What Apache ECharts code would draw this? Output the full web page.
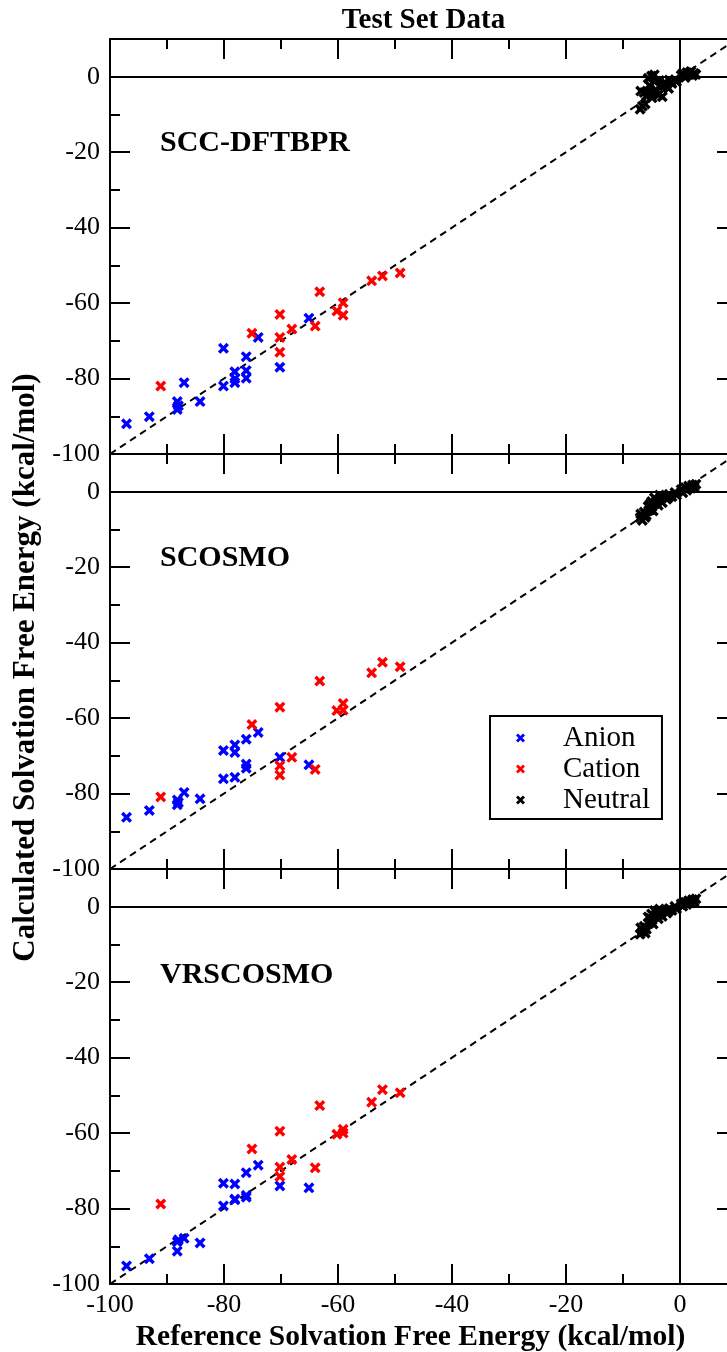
<!DOCTYPE html>
<html>
<head>
<meta charset="utf-8">
<script src="https://cdn.jsdelivr.net/npm/echarts@6/dist/echarts.min.js"></script>
<style>
  html, body { margin: 0; padding: 0; background: #fff; }
  #chart { width: 727px; height: 1352px; }
</style>
</head>
<body>
<div id="chart"></div>
<script>
// Reference solvation free energies (kcal/mol), shared by every method
const anionRef = [-97.1, -93.1, -88.2, -88.2, -88.0, -87.0, -84.2, -80.1, -80.1, -78.1, -78.1, -78.1, -76.1, -76.1, -76.1, -74.0, -70.2, -65.1];
const cationRef = [-91.1, -75.1, -70.2, -70.2, -70.2, -68.1, -63.2, -64.0, -60.2, -59.1, -59.1, -54.1, -52.2, -49.1];
const neutralRef = [-7.0, -6.6, -6.3, -6.9, -5.9, -5.6, -5.2, -5.0, -4.7, -4.4, -4.9, -4.1, -3.8, -5.5, -3.4, -3.1, -2.7, -4.5,
                    -2.3, -1.9, -3.6, -1.4, -0.9, -0.6, -2.0, 0.2, 0.5, 0.9, 1.2, 1.5, 1.9, 2.2, 2.5, 2.8, -6.1, -5.3];

// Calculated values, SCC-DFTBPR
const anionSCC = [-92.0, -90.1, -86.1, -88.2, -87.2, -81.1, -86.1, -72.0, -82.0, -78.2, -81.1, -80.0, -74.2, -77.9, -79.9, -69.1, -77.0, -64.0];
const cationSCC = [-82.0, -68.0, -63.0, -69.1, -73.0, -66.9, -57.0, -66.1, -62.1, -59.9, -63.2, -54.1, -52.8, -52.0];
const neutralSCC = [-8.6, -7.8, -4.2, -3.8, -5.1, -0.4, -3.6, 0.2, -4.6, -1.2, -5.6, -3.9, -4.8, -4.3, -2.1, -5.3, -1.5, 0.5,
                    -2.6, -0.9, -1.0, -1.8, -0.8, -1.3, -3.1, 0.4, 0.9, -0.2, 1.1, 0.6, 1.4, 0.3, 0.9, 0.6, -7.2, -2.4];

// Calculated values, SCOSMO
const anionSCOSMO = [-86.3, -84.5, -81.7, -83.0, -82.4, -79.7, -81.4, -68.6, -76.1, -67.1, -69.1, -75.7, -65.6, -72.2, -73.3, -63.8, -70.4, -72.4];
const cationSCOSMO = [-80.9, -61.7, -57.1, -72.6, -75.1, -70.4, -50.2, -73.6, -58.0, -56.1, -57.9, -48.0, -45.2, -46.4];
const neutralSCOSMO = [-6.9, -7.6, -5.4, -5.9, -6.3, -3.9, -4.8, -2.6, -5.1, -3.2, -4.0, -2.4, -3.6, -5.0, -1.8, -2.9, -1.2, -1.6,
                       -2.0, -0.7, -0.9, -1.3, -0.2, -0.9, -1.5, 0.6, -0.3, 1.1, 0.4, 1.5, 0.9, 1.8, 1.2, 2.0, -6.8, -3.3];

// Calculated values, VRSCOSMO
const anionVRS = [-95.2, -93.3, -88.8, -91.3, -88.3, -87.9, -89.1, -73.3, -79.3, -73.5, -77.7, -77.5, -70.5, -76.5, -77.0, -68.5, -74.0, -74.5];
const cationVRS = [-78.8, -64.2, -59.5, -69.0, -71.5, -67.0, -52.7, -69.2, -60.3, -59.0, -60.0, -51.8, -48.5, -49.3];
const neutralVRS = [-7.3, -6.5, -5.2, -5.6, -6.0, -2.7, -4.1, -1.9, -4.6, -2.5, -3.6, -1.6, -3.2, -4.5, -1.5, -2.6, -0.8, -1.0,
                    -1.7, -0.5, -0.6, -1.0, 0.1, -0.6, -1.2, 0.8, 0.1, 1.2, 0.6, 1.6, 1.0, 1.9, 1.3, 2.1, -7.0, -3.0];

const methodNames = ['SCC-DFTBPR', 'SCOSMO', 'VRSCOSMO'];
const calcAnion = [anionSCC, anionSCOSMO, anionVRS];
const calcCation = [cationSCC, cationSCOSMO, cationVRS];
const calcNeutral = [neutralSCC, neutralSCOSMO, neutralVRS];
const groupNames = ['Anion', 'Cation', 'Neutral'];
const groupColors = ['#0000ff', '#ff0000', '#000000'];

// Axis ranges and tick steps
const axisMin = -100, axisMax = 10, majorStep = 20, minorStep = 10;
const diagonal = [[-100, -100], [10, 10]];

const SERIF = '"Liberation Serif", "DejaVu Serif", serif';
const CROSS = 'path://M0,2.2L2.2,0L5,2.8L7.8,0L10,2.2L7.2,5L10,7.8L7.8,10L5,7.2L2.2,10L0,7.8L2.8,5Z';

const gridTops = [39, 454, 869];
const panelH = 415, plotLeft = 110, plotW = 627;

const grids = [], xAxes = [], yAxes = [], series = [], graphics = [];

function zip(xs, ys) { return xs.map((x, k) => [x, ys[k]]); }

function axisPair(kind, gi, position, withLine, showLabel, extra) {
  const base = {
    type: 'value', gridIndex: gi, min: axisMin, max: axisMax, position: position,
    splitLine: { show: false }
  };
  const major = Object.assign({}, base, {
    interval: majorStep,
    axisLine: { show: withLine, onZero: false, lineStyle: { color: '#000', width: 2 } },
    axisTick: { show: true, inside: true, length: 20, lineStyle: { color: '#000', width: 2 } },
    axisLabel: {
      show: showLabel, color: '#000', fontFamily: SERIF, fontSize: 26, margin: kind === 'x' ? 8 : 10,
      formatter: v => (v > 0 ? '' : String(v))
    }
  }, extra || {});
  const minor = Object.assign({}, base, {
    interval: minorStep,
    axisLine: { show: false, onZero: false },
    axisTick: { show: true, inside: true, length: 10, lineStyle: { color: '#000', width: 2 } },
    axisLabel: { show: false }
  });
  return [major, minor];
}

methodNames.forEach((name, i) => {
  grids.push({ left: plotLeft, top: gridTops[i], width: plotW, height: panelH, outerBoundsMode: 'none', containLabel: false });

  const xExtra = i === 2 ? {
    name: 'Reference Solvation Free Energy (kcal/mol)', nameLocation: 'middle', nameGap: 38,
    nameTextStyle: { color: '#000', fontFamily: SERIF, fontSize: 29.5, fontWeight: 'bold', padding: [0, 26, 0, 0] }
  } : {};
  const yExtra = i === 1 ? {
    name: 'Calculated Solvation Free Energy (kcal/mol)', nameLocation: 'middle', nameGap: 67,
    nameTextStyle: { color: '#000', fontFamily: SERIF, fontSize: 31, fontWeight: 'bold', padding: [0, 12, 0, 0] }
  } : {};

  const xb = axisPair('x', i, 'bottom', true, i === 2, xExtra);
  const xt = axisPair('x', i, 'top', true, false);
  const yl = axisPair('y', i, 'left', true, true, yExtra);
  const yr = axisPair('y', i, 'right', true, false);
  const xIdx = xAxes.length, yIdx = yAxes.length;
  xAxes.push(xb[0], xb[1], xt[0], xt[1]);
  yAxes.push(yl[0], yl[1], yr[0], yr[1]);

  // y = x reference line, with the zero lines drawn as mark lines
  series.push({
    type: 'line', xAxisIndex: xIdx, yAxisIndex: yIdx, data: diagonal,
    showSymbol: false, silent: true, z: 1,
    lineStyle: { color: '#000', width: 2, type: [7, 5] },
    markLine: {
      silent: true, symbol: ['none', 'none'], label: { show: false },
      lineStyle: { color: '#000', width: 2, type: 'solid' },
      data: [{ yAxis: 0 }, { xAxis: 0 }]
    }
  });

  const groups = [zip(anionRef, calcAnion[i]), zip(cationRef, calcCation[i]), zip(neutralRef, calcNeutral[i])];
  groups.forEach((data, g) => {
    series.push({
      name: groupNames[g], type: 'scatter', xAxisIndex: xIdx, yAxisIndex: yIdx,
      data: data, symbol: CROSS, symbolSize: 11, z: 3,
      itemStyle: { color: groupColors[g], opacity: 1 }
    });
  });

  graphics.push({
    type: 'text', left: 160, top: gridTops[i] + [104, 104, 106][i] - 15,
    style: { text: name, fill: '#000', font: 'bold 30px ' + SERIF }
  });
});

graphics.push({
  type: 'text', x: plotLeft + plotW / 2, y: 21,
  style: { text: 'Test Set Data', fill: '#000', font: 'bold 29px ' + SERIF, textAlign: 'center', textVerticalAlign: 'middle' }
});

const chart = echarts.init(document.getElementById('chart'), null, { renderer: 'canvas' });
chart.setOption({
  animation: false,
  backgroundColor: '#fff',
  grid: grids,
  xAxis: xAxes,
  yAxis: yAxes,
  series: series,
  graphic: graphics,
  legend: {
    data: groupNames, orient: 'vertical', left: 490, top: 716,
    icon: CROSS, itemWidth: 9, itemHeight: 9, itemGap: 1,
    padding: [7, 12, 4, 26], borderColor: '#000', borderWidth: 2, borderRadius: 0,
    backgroundColor: '#fff',
    textStyle: { color: '#000', fontFamily: SERIF, fontSize: 29, lineHeight: 30, padding: [0, 0, 0, 33] }
  }
});
</script>
</body>
</html>
